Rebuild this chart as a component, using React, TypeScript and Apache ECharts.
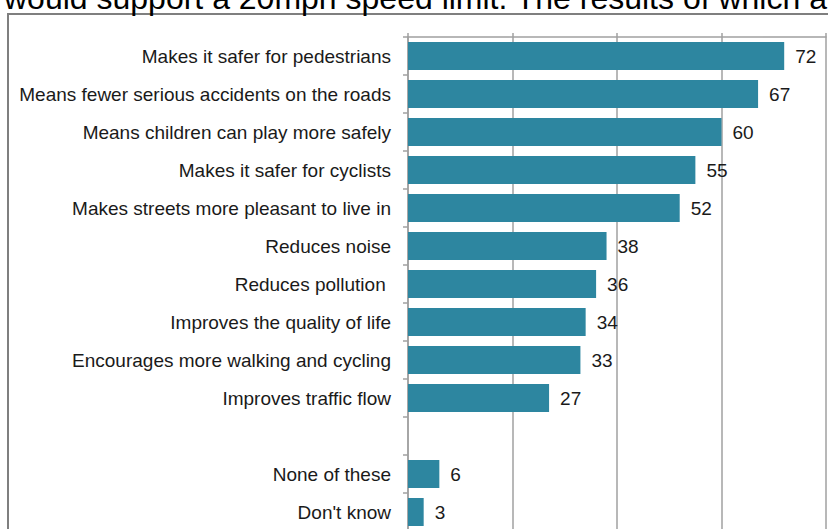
import React, { useEffect, useRef } from "react";
import * as echarts from "echarts";

const categories = [
  "Makes it safer for pedestrians",
  "Means fewer serious accidents on the roads",
  "Means children can play more safely",
  "Makes it safer for cyclists",
  "Makes streets more pleasant to live in",
  "Reduces noise",
  "Reduces pollution ",
  "Improves the quality of life",
  "Encourages more walking and cycling",
  "Improves traffic flow",
  "",
  "None of these",
  "Don't know",
];
const values: (number | null)[] = [72, 67, 60, 55, 52, 38, 36, 34, 33, 27, null, 6, 3];
const titleText = "would support a 20mph speed limit. The results of which a";

const FONT = "'Liberation Sans', Arial, sans-serif";

export default function App() {
  const ref = useRef<HTMLDivElement>(null);
  useEffect(() => {
    if (!ref.current) return;
    const chart = echarts.init(ref.current, null, { renderer: "svg" });
    chart.setOption({
      animation: false,
      backgroundColor: "#ffffff",
      textStyle: { fontFamily: FONT },
      graphic: [
        {
          type: "rect",
          shape: { x: 8, y: 14, width: 900, height: 700 },
          style: { fill: "none", stroke: "#7f7f7f", lineWidth: 2 },
          silent: true,
        },
        {
          type: "text",
          x: 4,
          y: -2.5,
          style: {
            text: titleText,
            font: `32px ${FONT}`,
            fill: "#000000",
            verticalAlign: "middle",
            align: "left",
          },
          silent: true,
        },
      ],
      grid: { left: 408, top: 37, width: 418, height: 494, containLabel: false },
      xAxis: {
        type: "value",
        position: "top",
        min: 0,
        max: 80,
        interval: 20,
        axisLine: { show: true, lineStyle: { color: "#a0a0a0", width: 1.5 } },
        axisTick: { show: true, inside: false, length: 4, lineStyle: { color: "#a0a0a0", width: 1.5 } },
        axisLabel: { show: false },
        splitLine: { show: true, lineStyle: { color: "#a0a0a0", width: 1.5 } },
      },
      yAxis: {
        type: "category",
        data: categories,
        inverse: true,
        axisLine: { show: true, lineStyle: { color: "#a0a0a0", width: 1.5 } },
        axisTick: { show: true, inside: false, length: 5, lineStyle: { color: "#a0a0a0", width: 1.5 } },
        axisLabel: { color: "#1a1a1a", fontSize: 19, fontFamily: FONT, margin: 17 },
        splitLine: { show: false },
      },
      series: [
        {
          type: "bar",
          data: values,
          barWidth: 28,
          itemStyle: { color: "#2d86a0" },
          label: {
            show: true,
            position: "right",
            distance: 11,
            color: "#1a1a1a",
            fontSize: 19,
            fontFamily: FONT,
          },
        },
      ],
    });
    return () => chart.dispose();
  }, []);
  return (
    <div
      ref={ref}
      style={{ position: "fixed", left: 0, top: 0, width: 828, height: 545 }}
    />
  );
}
